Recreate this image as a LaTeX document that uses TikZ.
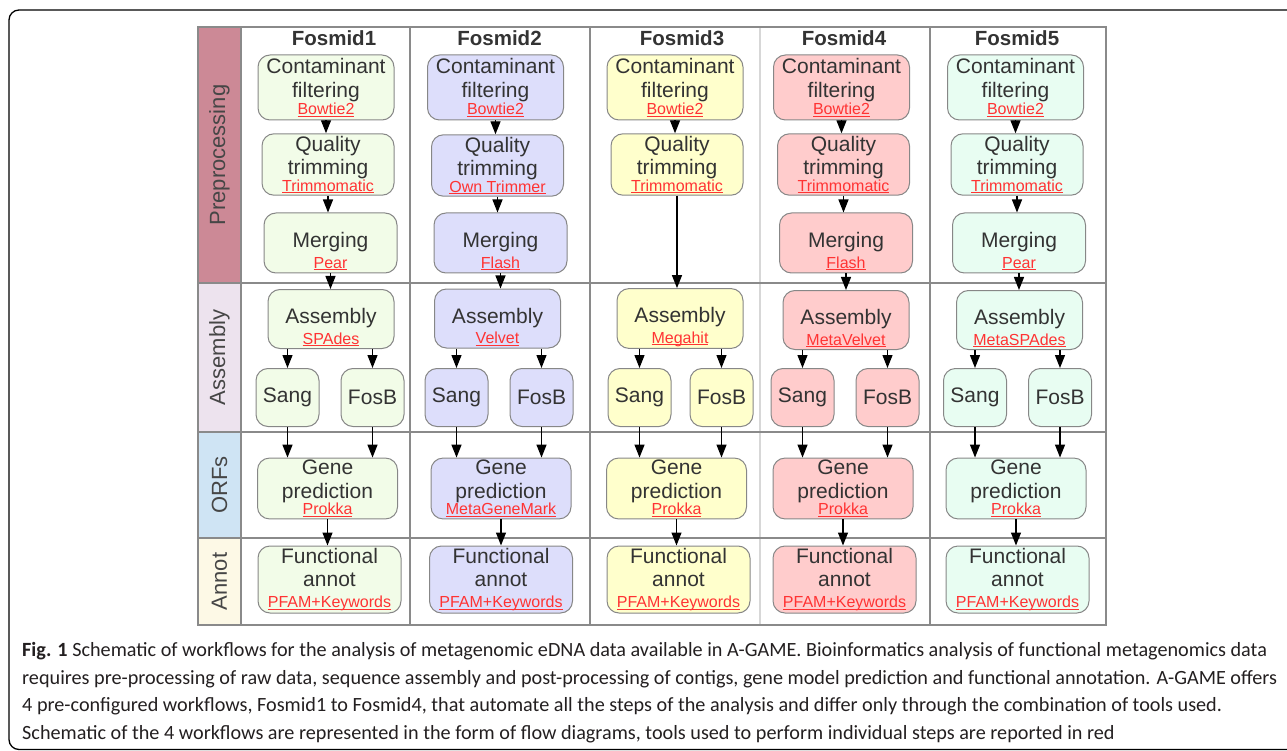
\documentclass[tikz,border=0pt]{standalone}
\usepackage{fontspec}
\setmainfont{Liberation Sans}
\newfontfamily\capfont{Carlito}
\usetikzlibrary{arrows.meta}

\definecolor{textgray}{RGB}{51,51,51}
\definecolor{labgray}{RGB}{70,70,70}
\definecolor{boxgray}{RGB}{135,135,135}
\definecolor{gridgray}{RGB}{138,138,138}
\definecolor{softgray}{RGB}{215,215,215}
\definecolor{toolred}{RGB}{255,51,51}
\definecolor{captext}{RGB}{35,31,32}
\definecolor{fosA}{RGB}{242,252,232}
\definecolor{fosB}{RGB}{221,222,251}
\definecolor{fosC}{RGB}{255,255,204}
\definecolor{fosD}{RGB}{255,204,204}
\definecolor{fosE}{RGB}{232,253,242}
\definecolor{preC}{RGB}{204,137,150}
\definecolor{asmC}{RGB}{237,227,238}
\definecolor{orfC}{RGB}{207,228,244}
\definecolor{annC}{RGB}{253,249,230}

\newcommand{\tool}[1]{{\fontsize{16}{18}\selectfont\color{toolred}\setbox0\hbox{#1}\rlap{\rule[-2.2pt]{\wd0}{0.9pt}}\box0}}
\newcommand{\lift}{\rule{0pt}{32pt}}

\begin{document}
\begin{tikzpicture}[x=1pt,y=-1pt,
		flowbox/.style={draw=boxgray, line width=1pt, rounded corners=12pt, align=center, inner sep=2pt, text=textgray, font=\fontsize{21}{23.5}\selectfont},
		contbox/.style={flowbox, minimum width=136pt, minimum height=65pt},
		qualbox/.style={flowbox, minimum width=132pt, minimum height=61pt},
		mergbox/.style={flowbox, minimum width=133pt, minimum height=60pt},
		asmbox/.style={flowbox, minimum width=126pt, minimum height=59pt},
		seqbox/.style={flowbox, minimum width=63pt, minimum height=58pt},
		genebox/.style={flowbox, minimum width=140pt, minimum height=60pt},
		annbox/.style={flowbox, minimum width=143pt, minimum height=67pt},
		fos1/.style={fill=fosA},
		fos2/.style={fill=fosB},
		fos3/.style={fill=fosC},
		fos4/.style={fill=fosD},
		fos5/.style={fill=fosE},
		fosmidhead/.style={anchor=base, inner sep=0pt, text=textgray, font=\bfseries\fontsize{20.5}{22}\selectfont},
		rowlab/.style={rotate=90, minimum height=43pt, inner sep=0pt, draw=gridgray, line width=1.2pt, text=labgray, font=\fontsize{22}{24}\selectfont},
		tableline/.style={draw=gridgray, line width=1.2pt},
		arr/.style={-{Triangle[length=13pt,width=10pt]}, line width=1.3pt},
		capt/.style={anchor=north west, inner sep=0pt, align=left, text=captext, font=\capfont\fontsize{20.2}{27.5}\selectfont}
	]
	\useasboundingbox (0,0) rectangle (1287,751);
	\draw[line width=1.3pt, rounded corners=10pt] (1300,10) -- (9,10) -- (9,749.5) -- (1300,749.5);

	\node[rowlab, fill=preC, minimum width=256pt] (pre) at (219.5,155) {Preprocessing};
	\node[rowlab, fill=asmC, minimum width=149pt] (asm) at (219.5,357.5) {Assembly};
	\node[rowlab, fill=orfC, minimum width=106pt] (orf) at (219.5,485) {ORFs};
	\node[rowlab, fill=annC, minimum width=87pt] (ann) at (219.5,581.5) {Annot};

	\draw[tableline] (198,27) rectangle (1106,625);
	\draw[tableline] (241,27) -- (241,625);
	\draw[tableline] (410,27) -- (410,625);
	\draw[tableline] (590,27) -- (590,625);
	\draw[tableline, draw=softgray] (760,28) -- (760,624);
	\draw[tableline] (930,27) -- (930,625);
	\draw[tableline] (198,283) -- (1106,283);
	\draw[tableline] (198,432) -- (1106,432);
	\draw[tableline] (198,538) -- (1106,538);

	\node[fosmidhead] (h1) at (334,46) {Fosmid1};
	\node[contbox, fos1] (cont1) at (326,87.5) {Contaminant\\filtering\\[-6pt]\tool{Bowtie2}};
	\node[qualbox, fos1] (qual1) at (328,164.5) {Quality\\trimming\\[-7pt]\tool{Trimmomatic}};
	\node[mergbox, fos1] (merg1) at (330.5,243) {\lift Merging\\[-3pt]\tool{Pear}};
	\node[asmbox, fos1] (asm1) at (331,319) {\lift Assembly\\[-3pt]\tool{SPAdes}};
	\node[seqbox, fos1] (sang1) at (287.5,397.5) {Sang};
	\node[seqbox, fos1] (fosb1) at (372.5,397.5) {FosB};
	\node[genebox, fos1] (gene1) at (327.5,488.5) {Gene\\prediction\\[-7pt]\tool{Prokka}};
	\node[annbox, fos1] (func1) at (329.5,579.5) {Functional\\annot\\[-3pt]\tool{PFAM+Keywords}};

	\node[fosmidhead] (h2) at (499.5,46) {Fosmid2};
	\node[contbox, fos2] (cont2) at (495.5,87.5) {Contaminant\\filtering\\[-6pt]\tool{Bowtie2}};
	\node[qualbox, fos2] (qual2) at (497.5,165.5) {Quality\\trimming\\[-7pt]\tool{Own Trimmer}};
	\node[mergbox, fos2] (merg2) at (500.5,243) {\lift Merging\\[-3pt]\tool{Flash}};
	\node[asmbox, fos2] (asm2) at (497.5,318.5) {\lift Assembly\\[-3pt]\tool{Velvet}};
	\node[seqbox, fos2] (sang2) at (456.5,397.5) {Sang};
	\node[seqbox, fos2] (fosb2) at (541.5,397.5) {FosB};
	\node[genebox, fos2] (gene2) at (501,488.5) {Gene\\prediction\\[-7pt]\tool{MetaGeneMark}};
	\node[annbox, fos2] (func2) at (501,579.5) {Functional\\annot\\[-3pt]\tool{PFAM+Keywords}};

	\node[fosmidhead] (h3) at (682,46) {Fosmid3};
	\node[contbox, fos3] (cont3) at (675,87.5) {Contaminant\\filtering\\[-6pt]\tool{Bowtie2}};
	\node[qualbox, fos3] (qual3) at (677,164.5) {Quality\\trimming\\[-7pt]\tool{Trimmomatic}};
	\node[asmbox, fos3] (asm3) at (680,318.5) {\lift Assembly\\[-3pt]\tool{Megahit}};
	\node[seqbox, fos3] (sang3) at (639.5,397.5) {Sang};
	\node[seqbox, fos3] (fosb3) at (721.5,397.5) {FosB};
	\node[genebox, fos3] (gene3) at (676.5,488.5) {Gene\\prediction\\[-7pt]\tool{Prokka}};
	\node[annbox, fos3] (func3) at (678.5,579.5) {Functional\\annot\\[-3pt]\tool{PFAM+Keywords}};

	\node[fosmidhead] (h4) at (844,46) {Fosmid4};
	\node[contbox, fos4] (cont4) at (841.5,87.5) {Contaminant\\filtering\\[-6pt]\tool{Bowtie2}};
	\node[qualbox, fos4] (qual4) at (843.5,164.5) {Quality\\trimming\\[-7pt]\tool{Trimmomatic}};
	\node[mergbox, fos4] (merg4) at (846,243) {\lift Merging\\[-3pt]\tool{Flash}};
	\node[asmbox, fos4] (asm4) at (846,320) {\lift Assembly\\[-3pt]\tool{MetaVelvet}};
	\node[seqbox, fos4] (sang4) at (802.5,397.5) {Sang};
	\node[seqbox, fos4] (fosb4) at (887.5,397.5) {FosB};
	\node[genebox, fos4] (gene4) at (843,488.5) {Gene\\prediction\\[-7pt]\tool{Prokka}};
	\node[annbox, fos4] (func4) at (844.5,579.5) {Functional\\annot\\[-3pt]\tool{PFAM+Keywords}};

	\node[fosmidhead] (h5) at (1017,46) {Fosmid5};
	\node[contbox, fos5] (cont5) at (1015.5,87.5) {Contaminant\\filtering\\[-6pt]\tool{Bowtie2}};
	\node[qualbox, fos5] (qual5) at (1017,164.5) {Quality\\trimming\\[-7pt]\tool{Trimmomatic}};
	\node[mergbox, fos5] (merg5) at (1019,243) {\lift Merging\\[-3pt]\tool{Pear}};
	\node[asmbox, fos5] (asm5) at (1019.5,320) {\lift Assembly\\[-3pt]\tool{MetaSPAdes}};
	\node[seqbox, fos5] (sang5) at (975,397.5) {Sang};
	\node[seqbox, fos5] (fosb5) at (1060,397.5) {FosB};
	\node[genebox, fos5] (gene5) at (1016,488.5) {Gene\\prediction\\[-7pt]\tool{Prokka}};
	\node[annbox, fos5] (func5) at (1017.5,579.5) {Functional\\annot\\[-3pt]\tool{PFAM+Keywords}};

	\draw[arr] (cont1.south) -- (cont1.south |- qual1.north);
	\draw[arr] (qual1.south) -- (qual1.south |- merg1.north);
	\draw[arr] (merg1.south) -- (merg1.south |- asm1.north);
	\draw[arr] (sang1.north |- asm1.south) -- (sang1.north);
	\draw[arr] (fosb1.north |- asm1.south) -- (fosb1.north);
	\draw[arr] (sang1.south) -- (sang1.south |- gene1.north);
	\draw[arr] (fosb1.south) -- (fosb1.south |- gene1.north);
	\draw[arr] (gene1.south) -- (gene1.south |- func1.north);

	\draw[arr] (cont2.south) -- (cont2.south |- qual2.north);
	\draw[arr] (qual2.south) -- (qual2.south |- merg2.north);
	\draw[arr] (merg2.south) -- (merg2.south |- asm2.north);
	\draw[arr] (sang2.north |- asm2.south) -- (sang2.north);
	\draw[arr] (fosb2.north |- asm2.south) -- (fosb2.north);
	\draw[arr] (sang2.south) -- (sang2.south |- gene2.north);
	\draw[arr] (fosb2.south) -- (fosb2.south |- gene2.north);
	\draw[arr] (gene2.south) -- (gene2.south |- func2.north);

	\draw[arr] (cont3.south) -- (cont3.south |- qual3.north);
	\draw[arr] (qual3.south) -- (qual3.south |- asm3.north);
	\draw[arr] (sang3.north |- asm3.south) -- (sang3.north);
	\draw[arr] (fosb3.north |- asm3.south) -- (fosb3.north);
	\draw[arr] (sang3.south) -- (sang3.south |- gene3.north);
	\draw[arr] (fosb3.south) -- (fosb3.south |- gene3.north);
	\draw[arr] (gene3.south) -- (gene3.south |- func3.north);

	\draw[arr] (cont4.south) -- (cont4.south |- qual4.north);
	\draw[arr] (qual4.south) -- (qual4.south |- merg4.north);
	\draw[arr] (merg4.south) -- (merg4.south |- asm4.north);
	\draw[arr] (sang4.north |- asm4.south) -- (sang4.north);
	\draw[arr] (fosb4.north |- asm4.south) -- (fosb4.north);
	\draw[arr] (sang4.south) -- (sang4.south |- gene4.north);
	\draw[arr] (fosb4.south) -- (fosb4.south |- gene4.north);
	\draw[arr] (gene4.south) -- (gene4.south |- func4.north);

	\draw[arr] (cont5.south) -- (cont5.south |- qual5.north);
	\draw[arr] (qual5.south) -- (qual5.south |- merg5.north);
	\draw[arr] (merg5.south) -- (merg5.south |- asm5.north);
	\draw[arr] (sang5.north |- asm5.south) -- (sang5.north);
	\draw[arr] (fosb5.north |- asm5.south) -- (fosb5.north);
	\draw[arr] (sang5.south) -- (sang5.south |- gene5.north);
	\draw[arr] (fosb5.south) -- (fosb5.south |- gene5.north);
	\draw[arr] (gene5.south) -- (gene5.south |- func5.north);

	\node[capt] (cap) at (22,642.5) {\textbf{Fig. 1} Schematic of workflows for the analysis of metagenomic eDNA data available in A-GAME. Bioinformatics analysis of functional metagenomics data\\
		requires pre-processing of raw data, sequence assembly and post-processing of contigs, gene model prediction and functional annotation. A-GAME offers\\
		4 pre-configured workflows, Fosmid1 to Fosmid4, that automate all the steps of the analysis and differ only through the combination of tools used.\\
		Schematic of the 4 workflows are represented in the form of flow diagrams, tools used to perform individual steps are reported in red};
\end{tikzpicture}
\end{document}
